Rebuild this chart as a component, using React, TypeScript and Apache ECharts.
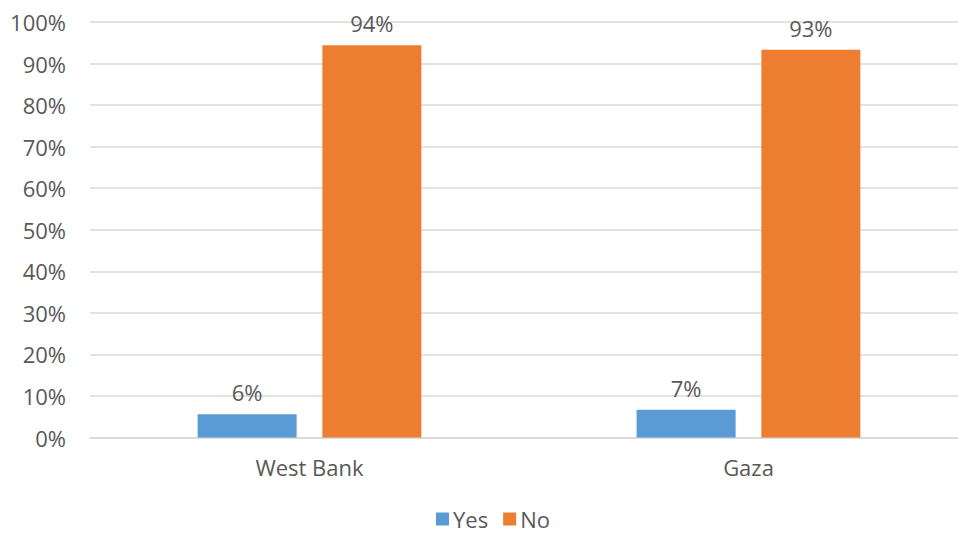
import React, { useEffect, useRef } from "react";
import * as echarts from "echarts";

const categories = ["West Bank", "Gaza"];
const yesValues = [5.6, 6.7];
const noValues = [94.4, 93.3];
const seriesNames = ["Yes", "No"];

export default function App() {
  const ref = useRef<HTMLDivElement>(null);
  useEffect(() => {
    document.body.style.margin = "0";
    const chart = echarts.init(ref.current!, null, { renderer: "svg" });
    const font = "'Open Sans', Lato, sans-serif";
    const labelCfg = {
      show: true,
      position: "top",
      distance: 11,
      color: "#595959",
      fontSize: 22,
      fontFamily: font,
      formatter: (p: any) => Math.round(p.value) + "%",
    };
    chart.setOption({
      animation: false,
      textStyle: { fontFamily: font },
      grid: { left: 90, top: 22, width: 878, height: 415.5, containLabel: false },
      legend: {
        top: 507,
        left: 436,
        padding: 0,
        itemWidth: 13,
        itemHeight: 13,
        itemGap: 15,
        icon: "rect",
        textStyle: { color: "#595959", fontSize: 22, lineHeight: 24, fontFamily: font, padding: [0, 0, 0, -1] },
        data: seriesNames,
      },
      xAxis: {
        type: "category",
        data: categories,
        axisLine: { lineStyle: { color: "#d9d9d9", width: 1.5 } },
        axisTick: { show: false },
        axisLabel: { color: "#595959", fontSize: 22, fontFamily: font, margin: 18 },
      },
      yAxis: {
        type: "value",
        min: 0,
        max: 100,
        interval: 10,
        axisLine: { show: false },
        axisTick: { show: false },
        splitLine: { lineStyle: { color: "#d9d9d9", width: 1.5 } },
        axisLabel: { color: "#595959", fontSize: 22, fontFamily: font, margin: 24, formatter: "{value}%" },
      },
      series: [
        {
          name: seriesNames[0],
          type: "bar",
          data: yesValues,
          barWidth: 99,
          barGap: "26%",
          itemStyle: { color: "#5B9BD5" },
          label: labelCfg,
        },
        {
          name: seriesNames[1],
          type: "bar",
          data: noValues,
          barWidth: 99,
          barGap: "26%",
          itemStyle: { color: "#ED7D31" },
          label: labelCfg,
        },
      ],
    });
    return () => chart.dispose();
  }, []);
  return (
    <div style={{ width: 958, height: 535, overflow: "hidden", position: "relative" }}>
      <div ref={ref} style={{ width: 980, height: 535 }} />
    </div>
  );
}
